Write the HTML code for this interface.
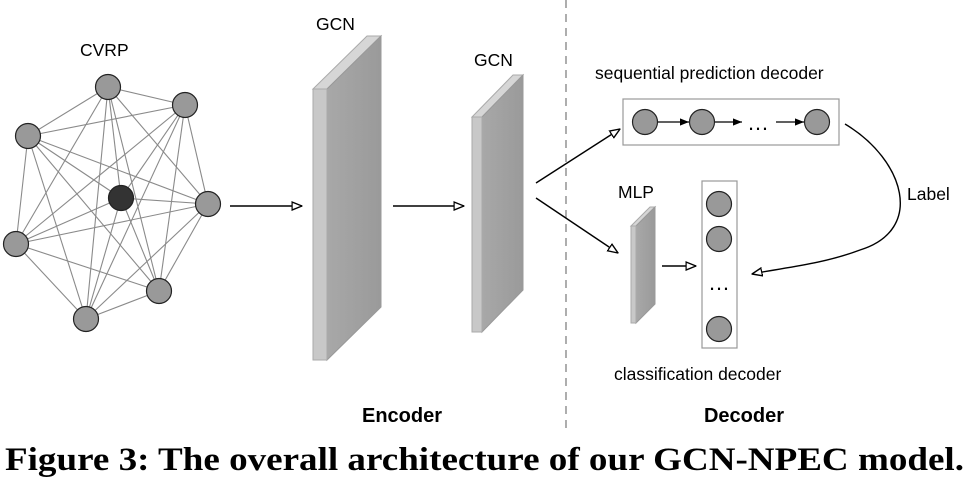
<!DOCTYPE html>
<html><head><meta charset="utf-8"><style>
html,body{margin:0;padding:0;background:#fff;}
svg{display:block;}
</style></head><body>
<svg width="974" height="482" viewBox="0 0 974 482" xmlns="http://www.w3.org/2000/svg">
<defs>
<marker id="ah" viewBox="0 0 10 10" refX="10" refY="5" markerWidth="11" markerHeight="10" markerUnits="userSpaceOnUse" orient="auto">
<path d="M0,1 L10,5 L0,9 Z" fill="#fff" stroke="#000" stroke-width="1.4"/></marker>
<marker id="af" viewBox="0 0 10 10" refX="10" refY="5" markerWidth="10" markerHeight="9" markerUnits="userSpaceOnUse" orient="auto">
<path d="M0,1 L10,5 L0,9 Z" fill="#000"/></marker>
<linearGradient id="g1" x1="0" x2="1"><stop offset="0" stop-color="#a8a8a8"/><stop offset="1" stop-color="#9a9a9a"/></linearGradient>
</defs>
<g font-family="Liberation Sans, sans-serif" font-size="17.5" fill="#000">
<text x="80" y="56">CVRP</text>
<text x="316" y="30">GCN</text>
<text x="474" y="66">GCN</text>
<text x="595" y="79">sequential prediction decoder</text>
<text x="618" y="198">MLP</text>
<text x="907" y="200">Label</text>
<text x="614" y="380">classification decoder</text>
</g>
<g stroke="#8a8a8a" stroke-width="1.1">
<line x1="108" y1="87" x2="185" y2="105"/><line x1="108" y1="87" x2="28" y2="136"/><line x1="108" y1="87" x2="121" y2="198"/><line x1="108" y1="87" x2="208" y2="204"/><line x1="108" y1="87" x2="16" y2="244"/><line x1="108" y1="87" x2="159" y2="291"/><line x1="108" y1="87" x2="86" y2="319"/>
<line x1="185" y1="105" x2="28" y2="136"/><line x1="185" y1="105" x2="121" y2="198"/><line x1="185" y1="105" x2="208" y2="204"/><line x1="185" y1="105" x2="16" y2="244"/><line x1="185" y1="105" x2="159" y2="291"/><line x1="185" y1="105" x2="86" y2="319"/>
<line x1="28" y1="136" x2="121" y2="198"/><line x1="28" y1="136" x2="208" y2="204"/><line x1="28" y1="136" x2="16" y2="244"/><line x1="28" y1="136" x2="159" y2="291"/><line x1="28" y1="136" x2="86" y2="319"/>
<line x1="121" y1="198" x2="208" y2="204"/><line x1="121" y1="198" x2="16" y2="244"/><line x1="121" y1="198" x2="159" y2="291"/><line x1="121" y1="198" x2="86" y2="319"/>
<line x1="208" y1="204" x2="16" y2="244"/><line x1="208" y1="204" x2="159" y2="291"/><line x1="208" y1="204" x2="86" y2="319"/>
<line x1="16" y1="244" x2="159" y2="291"/><line x1="16" y1="244" x2="86" y2="319"/>
<line x1="159" y1="291" x2="86" y2="319"/>
</g>
<g fill="#999" stroke="#222" stroke-width="1.2">
<circle cx="108" cy="87" r="12.5"/><circle cx="185" cy="105" r="12.5"/><circle cx="28" cy="136" r="12.5"/>
<circle cx="208" cy="204" r="12.5"/><circle cx="16" cy="244" r="12.5"/><circle cx="159" cy="291" r="12.5"/><circle cx="86" cy="319" r="12.5"/>
<circle cx="121" cy="198" r="12.5" fill="#333"/>
</g>
<line x1="230" y1="206" x2="302" y2="206" stroke="#000" stroke-width="1.4" marker-end="url(#ah)"/>
<line x1="393" y1="206" x2="464" y2="206" stroke="#000" stroke-width="1.4" marker-end="url(#ah)"/>
<polygon points="313,89 367,36 381,36 327,89" fill="#d6d6d6" stroke="#aaa"/>
<polygon points="327,89 381,36 381,307 327,360" fill="url(#g1)" stroke="#999"/>
<rect x="313" y="89" width="14" height="271" fill="#c8c8c8" stroke="#aaa"/>
<polygon points="472,117 513,75 523,75 482,117" fill="#d6d6d6" stroke="#aaa"/>
<polygon points="482,117 523,75 523,290 482,332" fill="url(#g1)" stroke="#999"/>
<rect x="472" y="117" width="10" height="215" fill="#c8c8c8" stroke="#aaa"/>
<line x1="566" y1="0" x2="566" y2="432" stroke="#777" stroke-width="1.2" stroke-dasharray="8,6"/>
<line x1="536" y1="183" x2="620" y2="129" stroke="#000" stroke-width="1.4" marker-end="url(#ah)"/>
<line x1="536" y1="198" x2="618" y2="253" stroke="#000" stroke-width="1.4" marker-end="url(#ah)"/>
<rect x="623" y="99" width="216" height="46" fill="#fff" stroke="#999" stroke-width="1.2"/>
<g fill="#999" stroke="#222" stroke-width="1.2">
<circle cx="645" cy="122" r="12.5"/><circle cx="702" cy="122" r="12.5"/><circle cx="817" cy="122" r="12.5"/>
</g>
<line x1="658" y1="122" x2="689" y2="122" stroke="#000" stroke-width="1.2" marker-end="url(#af)"/>
<line x1="715" y1="122" x2="742" y2="122" stroke="#000" stroke-width="1.2" marker-end="url(#af)"/>
<line x1="776" y1="122" x2="804" y2="122" stroke="#000" stroke-width="1.2" marker-end="url(#af)"/>
<text x="747" y="130" font-family="Liberation Sans, sans-serif" font-size="22">…</text>
<polygon points="631,226 650,207 655,207 636,226" fill="#d6d6d6" stroke="#aaa"/>
<polygon points="636,226 655,207 655,304 636,323" fill="url(#g1)" stroke="#999"/>
<rect x="631" y="226" width="5" height="97" fill="#c8c8c8" stroke="#aaa"/>
<line x1="662" y1="266" x2="696" y2="266" stroke="#000" stroke-width="1.4" marker-end="url(#ah)"/>
<rect x="702" y="181" width="35" height="167" fill="#fff" stroke="#999" stroke-width="1.2"/>
<g fill="#999" stroke="#222" stroke-width="1.2">
<circle cx="719" cy="204" r="12.5"/><circle cx="719" cy="239" r="12.5"/><circle cx="719" cy="329" r="12.5"/>
</g>
<text x="708" y="290" font-family="Liberation Sans, sans-serif" font-size="22">…</text>
<path d="M845,124 C905,160 925,230 860,250 C820,265 780,268 752,274" fill="none" stroke="#000" stroke-width="1.4" marker-end="url(#ah)"/>
<g font-family="Liberation Sans, sans-serif" font-size="20" font-weight="bold">
<text x="402" y="422" text-anchor="middle">Encoder</text>
<text x="744" y="422" text-anchor="middle">Decoder</text>
</g>
<text x="5" y="470" font-family="Liberation Serif, serif" font-size="33" font-weight="bold" textLength="959" lengthAdjust="spacingAndGlyphs">Figure 3: The overall architecture of our GCN-NPEC model.</text>
</svg>
</body></html>
